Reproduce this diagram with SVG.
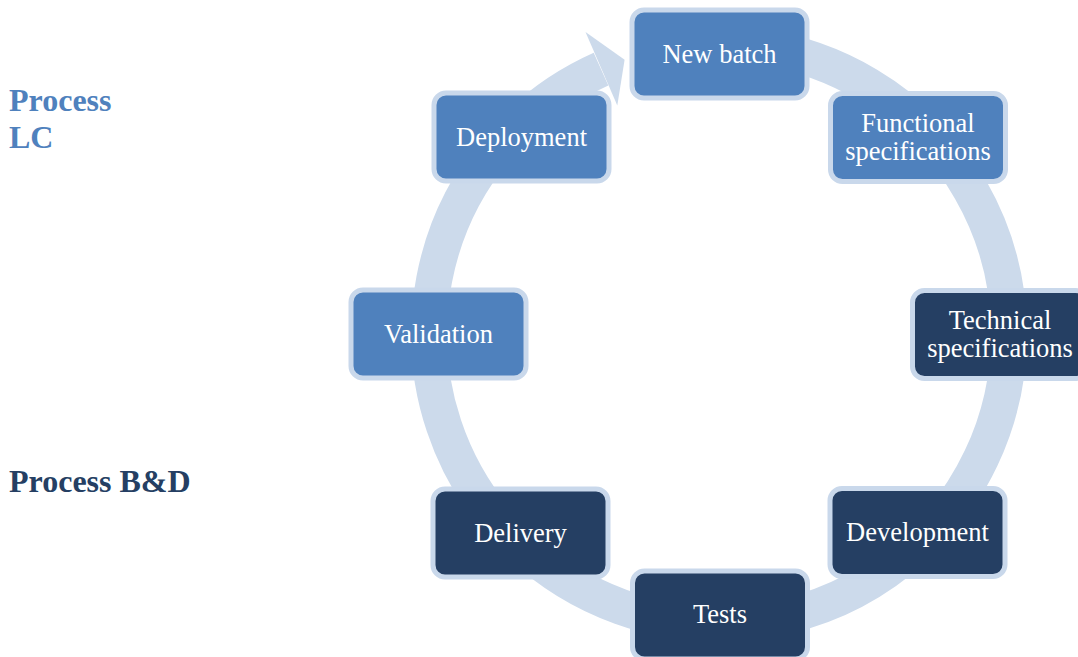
<svg xmlns="http://www.w3.org/2000/svg" width="1078" height="657" viewBox="0 0 1078 657">
<style>
.ring{fill:none;stroke:#CCDAEB;stroke-width:36;stroke-linecap:butt}
.head{fill:#CCDAEB}
.box{stroke:#C9D8EB;stroke-width:5}
.lc{fill:#4F81BD}
.bd{fill:#253F63}
.t{font-family:"Liberation Serif","Times New Roman",serif;font-size:26.5px;fill:#FFFFFF;text-anchor:middle}
.lbl{font-family:"Liberation Serif","Times New Roman",serif;font-size:32px;font-weight:bold}
</style>
<rect width="1078" height="657" fill="#FFFFFF"/>
<g id="connectors">
<path class="ring" d="M744.3,45.1 A290,290 0 1 1 601.0,69.1"/>
<polygon class="head" points="585.5,32 624.6,59.8 617.3,105.6"/>
</g>
<g id="label-lc">
<text class="lbl" fill="#4F81BD" x="9" y="111">Process</text>
<text class="lbl" fill="#4F81BD" x="9" y="148">LC</text>
</g>
<g id="label-bd">
<text class="lbl" fill="#253F63" x="9" y="492">Process B&amp;D</text>
</g>
<g id="node-newbatch">
<rect class="box lc" x="632" y="10" width="175" height="88" rx="12"/>
<text class="t" x="719.5" y="63">New batch</text>
</g>
<g id="node-functional">
<rect class="box lc" x="830.5" y="93.5" width="175" height="88" rx="12"/>
<text class="t" x="918" y="132">Functional</text>
<text class="t" x="918" y="160">specifications</text>
</g>
<g id="node-technical">
<rect class="box bd" x="912.5" y="290.5" width="175" height="88" rx="12"/>
<text class="t" x="1000" y="329">Technical</text>
<text class="t" x="1000" y="357">specifications</text>
</g>
<g id="node-development">
<rect class="box bd" x="830" y="488.5" width="175" height="88" rx="12"/>
<text class="t" x="917.5" y="541">Development</text>
</g>
<g id="node-tests">
<rect class="box bd" x="632.5" y="571" width="175" height="88" rx="12"/>
<text class="t" x="720" y="623">Tests</text>
</g>
<g id="node-delivery">
<rect class="box bd" x="433" y="489" width="175" height="88" rx="12"/>
<text class="t" x="520.5" y="542">Delivery</text>
</g>
<g id="node-validation">
<rect class="box lc" x="351" y="290" width="175" height="88" rx="12"/>
<text class="t" x="438.5" y="343">Validation</text>
</g>
<g id="node-deployment">
<rect class="box lc" x="434" y="93" width="175" height="88" rx="12"/>
<text class="t" x="521.5" y="146">Deployment</text>
</g>
</svg>
